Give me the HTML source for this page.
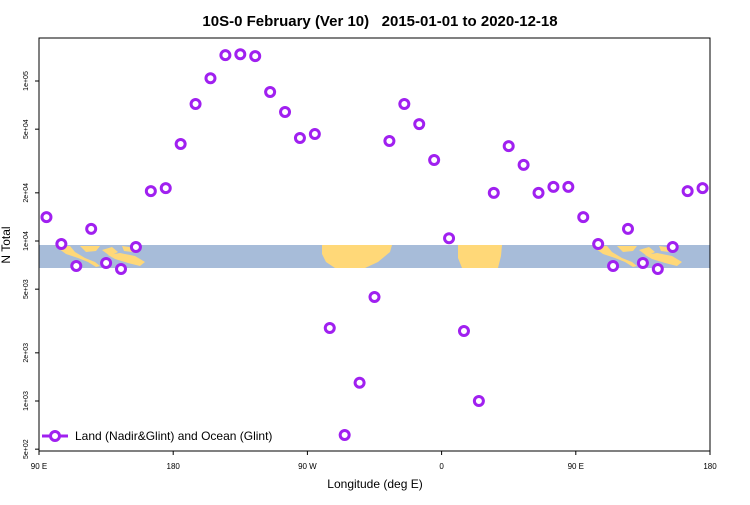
<!DOCTYPE html>
<html><head><meta charset="utf-8"><style>body{margin:0;background:#fff}svg text{font-family:"Liberation Sans",sans-serif}</style></head>
<body>
<svg id="c" width="750" height="500" viewBox="0 0 750 500" xmlns="http://www.w3.org/2000/svg">
<text x="380" y="26" text-anchor="middle" font-size="15" font-weight="bold" style="white-space:pre">10S-0 February (Ver 10)   2015-01-01 to 2020-12-18</text>
<g id="band">
<rect x="39" y="245" width="671" height="23" fill="#a7bcd9"/>
<g fill="#ffd878">
<path d="M55,246 L70,246 L75,252 L85,258 L95,262 L100,266 L96,267 L88,262 L78,258 L66,254 Z"/>
<path d="M80,246 L100,246 L96,251 L86,252 Z"/>
<path d="M102,250 L112,247 L118,252 L110,256 Z"/>
<path d="M108,255 L120,253 L135,256 L145,262 L140,266 L128,263 L115,259 Z"/>
<path d="M122,246 L135,248 L132,252 L124,251 Z"/>
<path d="M322,245 L392,245 L390,252 L378,262 L365,268 L335,268 L326,262 L322,254 Z"/>
<path d="M458,245 L502,245 L501,256 L498,268 L462,268 L458,258 Z"/>
<path d="M592,246 L607,246 L612,252 L622,258 L632,262 L637,266 L633,267 L625,262 L615,258 L603,254 Z"/>
<path d="M617,246 L637,246 L633,251 L623,252 Z"/>
<path d="M639,250 L649,247 L655,252 L647,256 Z"/>
<path d="M645,255 L657,253 L672,256 L682,262 L677,266 L665,263 L652,259 Z"/>
<path d="M659,246 L672,248 L669,252 L661,251 Z"/>
</g></g>
<rect x="39" y="38" width="671" height="413" fill="none" stroke="#000" stroke-width="1"/>
<g id="axes"></g>
<g id="marks"></g>
<text x="375" y="488" text-anchor="middle" font-size="12">Longitude (deg E)</text>
<text transform="translate(10,245) rotate(-90)" text-anchor="middle" font-size="12">N Total</text>
<g>
<line x1="42" y1="436" x2="68" y2="436" stroke="#a020f0" stroke-width="3"/>
<circle cx="55" cy="436" r="4.5" fill="#fff" stroke="#a020f0" stroke-width="3"/>
<text x="75" y="440" font-size="12">Land (Nadir&amp;Glint) and Ocean (Glint)</text>
</g>
</svg>
<script>
const lons=[95,105,115,125,135,145,155,165,175,185,195,205,215,225,235,245,255,265,275,285,295,305,315,325,335,345,355,365,375,385,395,405,415,425,435,445,455,465,475,485,495,505,515,525,535];
const values=[14100,9580,6980,11900,7290,6680,9170,20500,21400,40400,71800,104000,145000,147000,143000,85300,64000,44000,46600,2860,613,1300,4470,42200,71800,53800,32100,10400,2740,1000,20000,39200,29900,20000,21800,21800,14100,9580,6980,11900,7290,6680,9170,20500,21400];
const xTickVals=[90,180,270,360,450,540];
const xTickLabels=["90 E","180","90 W","0","90 E","180"];
const yTickVals=[500,1000,2000,5000,10000,20000,50000,100000];
const yTickLabels=["5e+02","1e+03","2e+03","5e+03","1e+04","2e+04","5e+04","1e+05"];
const NS="http://www.w3.org/2000/svg";
const X=v=>39+(v-90)/450*671;
const Y=v=>401-160*(Math.log10(v)-3);
function mk(t,a,p){const e=document.createElementNS(NS,t);for(const k in a)e.setAttribute(k,a[k]);p.appendChild(e);return e;}
const ax=document.getElementById('axes');
xTickVals.forEach((v,i)=>{
 const l=mk('line',{x1:X(v),x2:X(v),y1:451,y2:455,stroke:'#000'},ax);
 
 
 const t=mk('text',{x:X(v),y:469,'text-anchor':'middle','font-size':'8'},ax);
 
 
 t.textContent=xTickLabels[i];
});
yTickVals.forEach((v,i)=>{
 const l=mk('line',{x1:35,x2:39,y1:Y(v),y2:Y(v),stroke:'#000'},ax);
 
 
 const t=mk('text',{transform:`translate(28,${Y(v)}) rotate(-90)`,'text-anchor':'middle','font-size':'7'},ax);
 
 
 t.textContent=yTickLabels[i];
});
const mg=document.getElementById('marks');
values.forEach((v,i)=>{
 const c=mk('circle',{cx:X(lons[i]),cy:Y(v),r:4.5,fill:'#fff',stroke:'#a020f0','stroke-width':3},mg);
 
 
});
</script>
</body></html>
